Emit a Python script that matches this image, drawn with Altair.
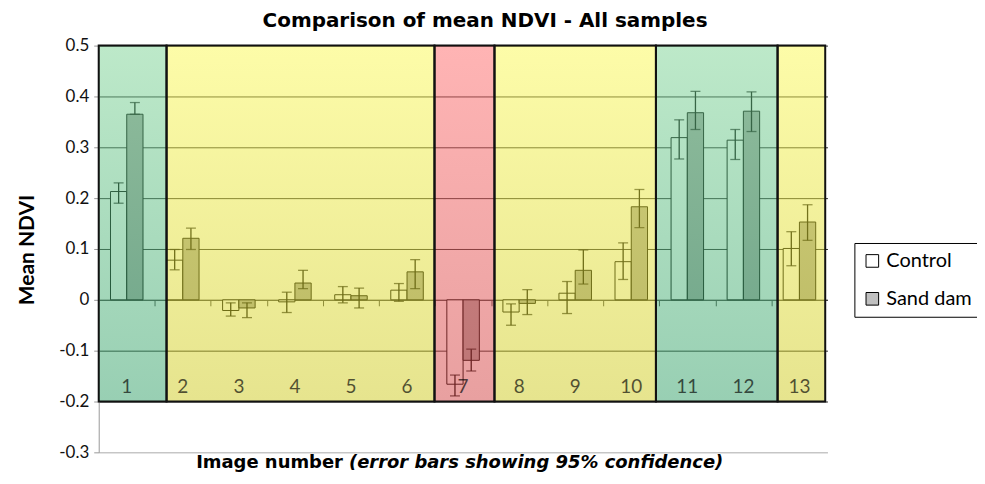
import altair as alt
import pandas as pd

# ---- data ----
images = list(range(1, 14))
control = [0.213, 0.078, -0.021, -0.004, 0.010, 0.019, -0.166, -0.024, 0.013, 0.075, 0.319, 0.314, 0.101]
control_hi = [0.230, 0.099, -0.006, 0.015, 0.026, 0.032, -0.148, -0.008, 0.036, 0.112, 0.354, 0.335, 0.134]
control_lo = [0.190, 0.059, -0.032, -0.025, -0.006, -0.003, -0.189, -0.050, -0.027, 0.040, 0.277, 0.276, 0.067]
sand = [0.365, 0.121, -0.016, 0.033, 0.008, 0.055, -0.119, -0.007, 0.058, 0.183, 0.368, 0.371, 0.153]
sand_hi = [0.388, 0.141, -0.006, 0.058, 0.023, 0.079, -0.097, 0.020, 0.098, 0.217, 0.410, 0.409, 0.187]
sand_lo = [0.365, 0.099, -0.035, 0.022, -0.016, 0.022, -0.140, -0.029, 0.031, 0.142, 0.335, 0.331, 0.117]
series_names = ["Control", "Sand dam"]

# highlight boxes drawn over the chart (in image-number units)
box_start = [0.5, 1.71, 6.49, 7.56, 10.44, 12.61]
box_end = [1.71, 6.49, 7.56, 10.44, 12.61, 13.46]
box_kind = ["green", "yellow", "red", "yellow", "green", "yellow"]
box_top = 0.5
box_bottom = -0.2

BAR_W = 0.29
rows = []
for i, im in enumerate(images):
    rows.append(dict(series="Control", image=im, value=control[i], hi=control_hi[i], lo=control_lo[i],
                     x0=im - BAR_W, x1=im, xc=im - BAR_W / 2, zero=0.0))
    rows.append(dict(series="Sand dam", image=im, value=sand[i], hi=sand_hi[i], lo=sand_lo[i],
                     x0=im, x1=im + BAR_W, xc=im + BAR_W / 2, zero=0.0))
df = pd.DataFrame(rows)
boxes = pd.DataFrame(dict(x0=box_start, x1=box_end, kind=box_kind,
                          top=[box_top] * len(box_start), bottom=[box_bottom] * len(box_start)))
labels = pd.DataFrame(dict(image=images, label=[str(i) for i in images], ypos=[-0.172] * len(images)))

W, H = 731, 408
xs = alt.Scale(domain=[0.5, 13.5], nice=False, zero=False)
ys = alt.Scale(domain=[-0.3, 0.5], nice=False, zero=False)
ticks_y = [round(-0.3 + 0.1 * k, 1) for k in range(9)]
bounds_x = [i + 0.5 for i in images[:-1]]

base = alt.Chart(df)

ctrl_bars = base.transform_filter("datum.series == 'Control'").mark_rect(
    fill="white", stroke="black", strokeWidth=1
).encode(
    x=alt.X("x0:Q", scale=xs,
            axis=alt.Axis(title=None, labels=False, grid=False, values=bounds_x, tickSize=6,
                          tickColor="#444", domainColor="#444", offset=-153)),
    x2="x1:Q",
    y=alt.Y("value:Q", scale=ys,
            axis=alt.Axis(title=None, values=ticks_y, tickSize=5, tickColor="#999",
                          domainColor="#999", labelFont="Lato", labelFontSize=17, labelColor="#111",
                          labelPadding=5,
                          labelExpr="datum.value == 0 ? '0' : toString(round(datum.value*10)/10)",
                          gridColor={"condition": {"test": "datum.value < -0.25", "value": "#aaaaaa"},
                                     "value": "#2a2a2a"})),
    y2="zero:Q",
)
sand_bars = base.transform_filter("datum.series == 'Sand dam'").mark_rect(
    fill="#a8a8a8", stroke="black", strokeWidth=1
).encode(x=alt.X("x0:Q", scale=xs), x2="x1:Q", y=alt.Y("value:Q", scale=ys), y2="zero:Q")

err_rule = base.mark_rule(color="black", strokeWidth=1.3).encode(
    x=alt.X("xc:Q", scale=xs), y=alt.Y("lo:Q", scale=ys), y2="hi:Q")
cap_hi = base.mark_tick(color="black", orient="horizontal", size=10, thickness=1.3).encode(
    x=alt.X("xc:Q", scale=xs), y=alt.Y("hi:Q", scale=ys))
cap_lo = base.mark_tick(color="black", orient="horizontal", size=10, thickness=1.3).encode(
    x=alt.X("xc:Q", scale=xs), y=alt.Y("lo:Q", scale=ys))


def grad(top, bottom):
    return alt.Gradient(gradient="linear", x1=0, x2=0, y1=0, y2=1,
                        stops=[alt.GradientStop(color=top, offset=0),
                               alt.GradientStop(color=bottom, offset=1)])


colors = {"green": ("#7bd393", "#319f67"), "yellow": ("#fbf951", "#cdc91d"), "red": ("#ff6969", "#d14141")}
overlays = []
for kind, (c_top, c_bot) in colors.items():
    overlays.append(
        alt.Chart(boxes).transform_filter(f"datum.kind == '{kind}'").mark_rect(
            fill=grad(c_top, c_bot), opacity=0.5
        ).encode(x=alt.X("x0:Q", scale=xs), x2="x1:Q", y=alt.Y("top:Q", scale=ys), y2="bottom:Q")
    )

cat_labels = alt.Chart(labels).mark_text(
    font="Lato", fontSize=19, color="black", opacity=0.65, baseline="middle"
).encode(x=alt.X("image:Q", scale=xs), y=alt.Y("ypos:Q", scale=ys), text="label:N")

outlines = alt.Chart(boxes).mark_rect(fill=None, stroke="#111", strokeWidth=2).encode(
    x=alt.X("x0:Q", scale=xs), x2="x1:Q", y=alt.Y("top:Q", scale=ys), y2="bottom:Q")

legend_layer = base.mark_square(opacity=0, stroke="black", strokeWidth=1).encode(
    x=alt.X("xc:Q", scale=xs), y=alt.Y("value:Q", scale=ys),
    color=alt.Color("series:N", scale=alt.Scale(domain=series_names, range=["#ffffff", "#c0c0c0"]),
                    legend=alt.Legend(title=None, orient="none", legendX=758, legendY=198,
                                      strokeColor="black", fillColor="white", padding=8,
                                      symbolType="square", symbolSize=160, symbolStrokeColor="black",
                                      symbolStrokeWidth=1, symbolOpacity=1, labelFont="Lato",
                                      labelFontSize=20, labelColor="black", rowPadding=18,
                                      labelOffset=4)))

ytitle = alt.Chart(pd.DataFrame({"t": ["Mean NDVI"]})).mark_text(
    font="Lato", fontSize=21, fontWeight="bold", angle=270, color="black", baseline="middle"
).encode(text="t:N", x=alt.value(-71), y=alt.value(205))

xtitle_a = alt.Chart(pd.DataFrame({"t": ["Image number"]})).mark_text(
    font="DejaVu Sans", fontSize=18, fontWeight="bold", align="right", color="black",
    baseline="alphabetic"
).encode(text="t:N", x=alt.value(245), y=alt.value(424))
xtitle_b = alt.Chart(pd.DataFrame({"t": ["(error bars showing 95% confidence)"]})).mark_text(
    font="DejaVu Sans", fontSize=18, fontWeight="bold", fontStyle="italic", align="left",
    color="black", baseline="alphabetic"
).encode(text="t:N", x=alt.value(251), y=alt.value(424))

chart = alt.layer(
    ctrl_bars, sand_bars, err_rule, cap_hi, cap_lo, *overlays, cat_labels, outlines, legend_layer,
    ytitle, xtitle_a, xtitle_b
).properties(
    width=W, height=H,
    title=alt.Title("Comparison of mean NDVI - All samples", font="DejaVu Sans", fontSize=20,
                    fontWeight="bold", color="black", anchor="middle", dx=22, offset=6),
    autosize=alt.AutoSizeParams(type="none"),
    padding={"left": 91, "top": 37, "right": 150, "bottom": 20},
).configure_view(stroke=None).configure_axis(grid=True)

chart.save("out.html", embed_options={"renderer": "svg", "actions": False})
